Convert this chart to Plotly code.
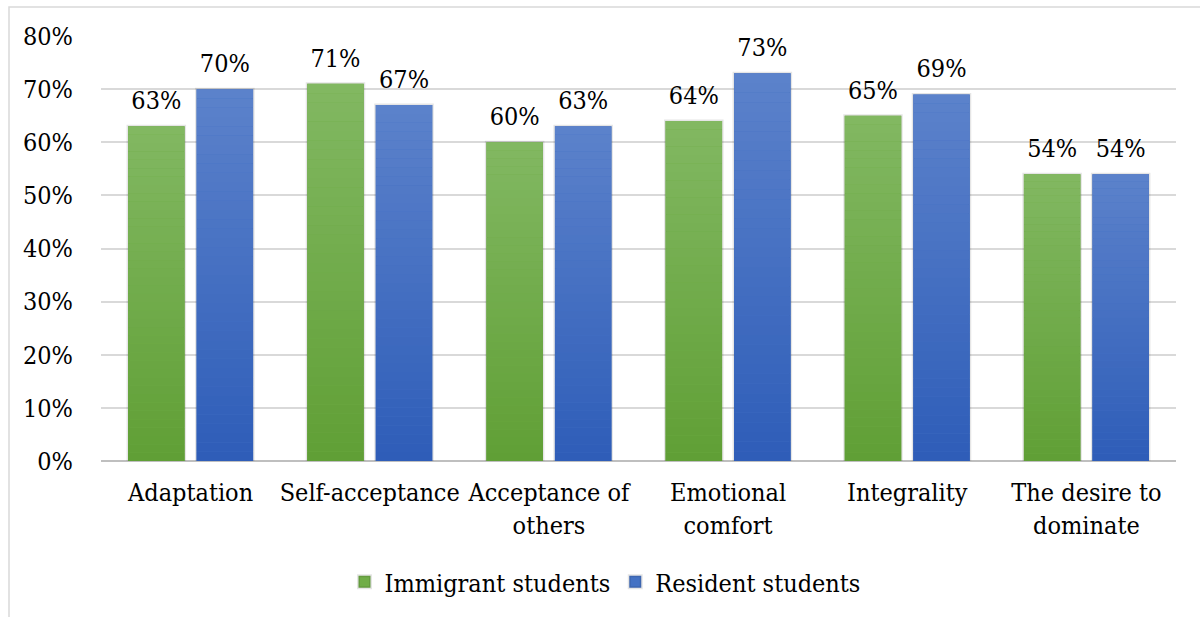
import plotly.graph_objects as go

# Survey results by scale
categories = [
    "Adaptation",
    "Self-acceptance",
    "Acceptance of<br>others",
    "Emotional<br>comfort",
    "Integrality",
    "The desire to<br>dominate",
]
immigrant = [0.63, 0.71, 0.60, 0.64, 0.65, 0.54]
resident = [0.70, 0.67, 0.63, 0.73, 0.69, 0.54]
y_ticks = [0, 0.1, 0.2, 0.3, 0.4, 0.5, 0.6, 0.7, 0.8]

# name, values, group, mid colour, gradient bottom, gradient top
series = [
    ("Immigrant students", immigrant, "imm", "#70AD47", (0x60, 0x9F, 0x35), (0x82, 0xB8, 0x62)),
    ("Resident students", resident, "res", "#4472C4", (0x2E, 0x5D, 0xB8), (0x5C, 0x82, 0xCB)),
]

FONT = "DejaVu Serif Condensed, DejaVu Serif, serif"
FS = 25
W, H = 1200, 617
L, R, T, B = 101, 24, 36, 156
PW, PH = W - L - R, H - T - B
Y_MAX = 0.8
LABEL_LIFT = 8   # extra px between bar top and its value label
N_BANDS = 40     # slices used for the vertical colour gradient


def lerp(c0, c1, t):
    return "rgb(%d,%d,%d)" % tuple(round(a + (b - a) * t) for a, b in zip(c0, c1))


fig = go.Figure()
for name, vals, grp, mid, bottom, top in series:
    # full bar in the mid colour with a soft edge
    fig.add_trace(go.Bar(
        name=name, x=categories, y=vals, offsetgroup=grp,
        marker=dict(color=mid, line=dict(width=3, color="rgba(0,0,0,0.10)")),
        textposition="none", hoverinfo="x+y",
    ))
    # gradient slices stacked from the base to the bar's value
    for k in range(N_BANDS):
        fig.add_trace(go.Bar(
            x=categories, y=[v / N_BANDS for v in vals],
            base=[v * k / N_BANDS for v in vals], offsetgroup=grp,
            marker=dict(color=lerp(bottom, top, (k + 0.5) / N_BANDS), line=dict(width=0)),
            showlegend=False, hoverinfo="skip", textposition="none",
        ))

# value labels: same bars on a twin axis nudged upward a few pixels
shift = LABEL_LIFT * Y_MAX / PH
for name, vals, grp, mid, bottom, top in series:
    fig.add_trace(go.Bar(
        name=name, x=categories, y=vals, yaxis="y2", offsetgroup=grp,
        marker=dict(color="rgba(0,0,0,0)", line=dict(width=0)),
        texttemplate="%{y:.0%}", textposition="outside",
        textfont=dict(family=FONT, size=FS, color="#000000"),
        cliponaxis=False, showlegend=False, hoverinfo="skip",
    ))

# outer frame of the chart area
px = lambda p: (p - L) / PW
py = lambda p: (H - B - p) / PH
fig.add_shape(
    type="rect", xref="paper", yref="paper",
    x0=px(9), x1=px(1215), y0=py(630), y1=py(7),
    line=dict(color="#d9d9d9", width=1.5), fillcolor="rgba(0,0,0,0)",
    layer="below",
)

fig.update_layout(
    width=W, height=H,
    margin=dict(l=L, r=R, t=T, b=B, autoexpand=False),
    paper_bgcolor="white", plot_bgcolor="white",
    font=dict(family=FONT, size=FS, color="#000000"),
    barmode="group", bargap=0.235, bargroupgap=0.175,
    showlegend=True,
    legend=dict(
        orientation="h", x=px(605), xanchor="center",
        y=py(582), yanchor="middle",
        font=dict(family=FONT, size=FS, color="#000000"),
        itemwidth=30, traceorder="normal",
    ),
    xaxis=dict(
        showgrid=False, showline=False, ticks="", tickangle=0,
        tickfont=dict(family=FONT, size=FS, color="#000000"),
        ticklabelstandoff=14,
    ),
    yaxis=dict(
        range=[0, Y_MAX], tickvals=y_ticks, tickformat=".0%",
        showgrid=True, gridcolor="#d9d9d9", gridwidth=1.5,
        zeroline=True, zerolinecolor="#bfbfbf", zerolinewidth=2,
        showline=False, ticks="",
        tickfont=dict(family=FONT, size=FS, color="#000000"),
        ticklabelstandoff=27,
    ),
    yaxis2=dict(
        overlaying="y", range=[-shift, Y_MAX - shift], visible=False,
        showgrid=False, zeroline=False,
    ),
)

fig.write_html("out.html")
